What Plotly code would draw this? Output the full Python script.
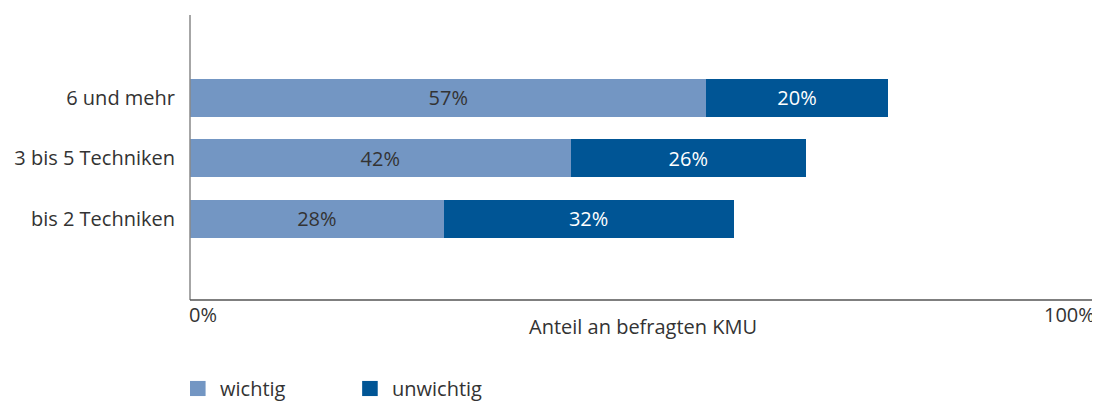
import plotly.graph_objects as go

categories = ['bis 2 Techniken', '3 bis 5 Techniken', '6 und mehr']
wichtig = [28, 42, 57]
unwichtig = [32, 26, 20]
legend_names = ['wichtig', 'unwichtig']

light = '#7396c3'
dark = '#005595'
text_col = '#333333'
font_family = 'Open Sans, Lato, sans-serif'

fig = go.Figure()
fig.add_trace(go.Bar(
    y=categories, x=wichtig, orientation='h', name='wichtig',
    marker=dict(color=light, line=dict(width=0)),
    text=[f'{v}%' for v in wichtig], textposition='inside',
    insidetextanchor='middle', textangle=0,
    textfont=dict(color=text_col, size=20, family=font_family),
    width=0.63,
))
fig.add_trace(go.Bar(
    y=categories, x=unwichtig, orientation='h', name='unwichtig',
    marker=dict(color=dark, line=dict(width=0)),
    text=[f'{v}%' for v in unwichtig], textposition='inside',
    insidetextanchor='middle', textangle=0,
    textfont=dict(color='white', size=20, family=font_family),
    width=0.63,
))

# page body has an 8px margin, so the figure is shifted; compensate here
fig.update_layout(
    barmode='stack',
    width=1092, height=393,
    margin=dict(l=182, r=4, t=7, b=101, autoexpand=False),
    plot_bgcolor='white', paper_bgcolor='white',
    font=dict(family=font_family, size=20, color=text_col),
    uniformtext=dict(mode='show', minsize=10),
    showlegend=False,
    xaxis=dict(range=[0, 100], showgrid=False, zeroline=False,
               showticklabels=False, showline=False, fixedrange=True,
               automargin=False),
    yaxis=dict(range=[-1.34, 3.37], showgrid=False, zeroline=False,
               showline=False, ticks='', ticklabelstandoff=14, automargin=False,
               tickfont=dict(size=20, color=text_col)),
)

# axis lines
fig.add_shape(type='line', xref='paper', yref='paper', x0=0, x1=0, y0=0, y1=1,
              line=dict(color='#888888', width=1.5))
fig.add_shape(type='line', xref='paper', yref='paper', x0=0, x1=1, y0=0, y1=0,
              line=dict(color='#555555', width=1.5))

# tick labels and axis title
fig.add_annotation(x=0, y=0, xref='paper', yref='paper', text='0%', showarrow=False,
                   xanchor='left', yanchor='top', yshift=1, xshift=-3,
                   font=dict(size=20, color=text_col))
fig.add_annotation(x=1, y=0, xref='paper', yref='paper', text='100%', showarrow=False,
                   xanchor='right', yanchor='top', yshift=1, xshift=1,
                   font=dict(size=20, color=text_col))
fig.add_annotation(x=0.5, y=0, xref='paper', yref='paper', text='Anteil an befragten KMU',
                   showarrow=False, xanchor='center', yanchor='top', yshift=-11,
                   font=dict(size=20, color=text_col))

# hand-drawn legend below the chart
legend_x = [0.0, 0.19]
for name, col, lx in zip(legend_names, [light, dark], legend_x):
    fig.add_shape(type='rect', xref='paper', yref='paper',
                  x0=lx, x1=lx + 0.0172, y0=-0.337, y1=-0.284,
                  fillcolor=col, line=dict(width=0))
    fig.add_annotation(x=lx + 0.031, y=-0.309, xref='paper', yref='paper',
                       text=name, showarrow=False, xanchor='left',
                       yanchor='middle', font=dict(size=20, color=text_col))

fig.write_html('out.html')
